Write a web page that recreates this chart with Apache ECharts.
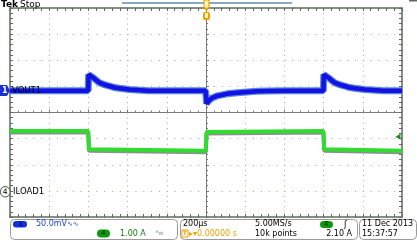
<!DOCTYPE html>
<html><head><meta charset="utf-8">
<script src="https://cdn.jsdelivr.net/npm/echarts@6/dist/echarts.min.js"></script>
<style>html,body{margin:0;padding:0;background:#fff}#c{width:417px;height:250px}</style>
</head><body><div id="c"></div>
<script>
// Time base: 200 µs/div, trigger at 0
const voutTimeUs = [-1000, -601, -599, -595, -569, -544, -518, -493, -467, -442, -391, -294, -2, 1, 3, 15, 31, 56, 107, 158, 209, 260, 310, 400, 599, 601, 605, 631, 656, 682, 707, 733, 758, 809, 906, 1000];
const voutMilliV  = [0, 0, 31, 29, 23, 15.3, 11.5, 9, 6.1, 4.6, 2.3, 0, 0, -14, -24.5, -19, -14, -10, -6, -4, -2.5, -1.2, -0.6, -0.3, -0.3, 31, 29, 23, 15.3, 11.5, 9, 6.1, 4.6, 2.3, 0, 0];
const iloadTimeUs = [-1000, -601, -597, -590, -1, 3, 8, 599, 603, 610, 1000];
const iloadAmp    = [2.32, 2.32, 1.62, 1.57, 1.57, 2.28, 2.32, 2.32, 1.62, 1.57, 1.57];
// channel settings (scale per div, ground position in divs)
const ch1Scale = 50, ch1Pos = 0.834;
const ch4Scale = 1, ch4Pos = -3.03;
const triggerLevelA = 2.10;

const vData = voutTimeUs.map((t, i) => [t, voutMilliV[i] / ch1Scale + ch1Pos]);
const iData = iloadTimeUs.map((t, i) => [t, iloadAmp[i] / ch4Scale + ch4Pos]);

const F = "DejaVu Sans";
const frame = '#5d6b5d';
const dotX = {show: true, lineStyle: {color: '#aaa98f', width: 1, type: [1, 4.22]}};
const dotY = {show: true, lineStyle: {color: '#aaa98f', width: 1, type: [1, 6.84]}};

function xa(extra) {
  return Object.assign({type: 'value', min: -1000, max: 1000, interval: 200,
    axisLabel: {show: false}, splitLine: {show: false}}, extra);
}
function ya(extra) {
  return Object.assign({type: 'value', min: -4, max: 4, interval: 1,
    axisLabel: {show: false}, splitLine: {show: false}}, extra);
}
function txt(text, x, y, color, size, weight, align) {
  return {type: 'text', z: 100, style: {text: text, x: x, y: y, fill: color,
    font: (weight || 'normal') + ' ' + (size || 8) + 'px "' + F + '"',
    align: align || 'left', verticalAlign: 'middle', textAlign: align || 'left', textVerticalAlign: 'middle'}};
}
function box(x, y, w, h, r, fill, stroke, lw) {
  return {type: 'rect', z: 90, shape: {x: x, y: y, width: w, height: h, r: r},
    style: {fill: fill || 'none', stroke: stroke || null, lineWidth: lw || 1}};
}

const chart = echarts.init(document.getElementById('c'), null, {renderer: 'canvas'});
chart.setOption({
  animation: false,
  backgroundColor: '#ffffff',
  grid: {left: 10, top: 8, width: 392, height: 209},
  xAxis: [
    xa({axisLine: {onZero: true, lineStyle: {color: '#7a7a7a', width: 1}},
        axisTick: {show: true, inside: true, length: 3, lineStyle: {color: '#7a7a7a'}},
        minorTick: {show: true, splitNumber: 5, length: 2, lineStyle: {color: '#7a7a7a'}},
        splitLine: dotX}),
    xa({position: 'bottom', axisLine: {onZero: false, lineStyle: {color: frame, width: 1.5}},
        axisTick: {show: true, inside: true, length: 3, lineStyle: {color: frame}},
        minorTick: {show: true, splitNumber: 5, length: 3, lineStyle: {color: frame}}}),
    xa({position: 'top', axisLine: {onZero: false, lineStyle: {color: frame, width: 1.5}},
        axisTick: {show: true, inside: true, length: 3, lineStyle: {color: frame}},
        minorTick: {show: true, splitNumber: 5, length: 3, lineStyle: {color: frame}}})
  ],
  yAxis: [
    ya({axisLine: {onZero: true, lineStyle: {color: '#7a7a7a', width: 1}},
        axisTick: {show: true, inside: true, length: 3, lineStyle: {color: '#7a7a7a'}},
        minorTick: {show: true, splitNumber: 5, length: 2, lineStyle: {color: '#7a7a7a'}},
        splitLine: dotY}),
    ya({position: 'left', axisLine: {onZero: false, lineStyle: {color: frame, width: 1.5}},
        axisTick: {show: true, inside: true, length: 3, lineStyle: {color: frame}},
        minorTick: {show: true, splitNumber: 5, length: 3, lineStyle: {color: frame}}}),
    ya({position: 'right', axisLine: {onZero: false, lineStyle: {color: frame, width: 1.5}},
        axisTick: {show: true, inside: true, length: 3, lineStyle: {color: frame}},
        minorTick: {show: true, splitNumber: 5, length: 3, lineStyle: {color: frame}}})
  ],
  series: [
    {type: 'line', name: 'ILOAD1', data: iData, showSymbol: false, z: 5,
     lineStyle: {color: '#30dc30', width: 4, shadowColor: '#8e8e8e', shadowOffsetY: 1.5, shadowBlur: 0}},
    {type: 'line', name: 'VOUT1 halo', data: vData, showSymbol: false, z: 6,
     lineStyle: {color: '#5a8ad4', width: 7}},
    {type: 'line', name: 'VOUT1', data: vData, showSymbol: false, z: 7,
     lineStyle: {color: '#1212e6', width: 4.5}},
    {type: 'line', name: 'trig', data: [[1000, triggerLevelA / ch4Scale + ch4Pos]], showSymbol: true,
     symbol: 'triangle', symbolRotate: 90, symbolSize: [6, 5], symbolOffset: [-4, 0], z: 8,
     itemStyle: {color: '#1d8a1d'}, lineStyle: {width: 0}}
  ],
  graphic: [
    txt('Tek', 1, 4.5, '#000', 9, 'bold'),
    txt('Stop', 20, 4.5, '#000', 9),
    {type: 'rect', z: 80, shape: {x: 122, y: 2, width: 170, height: 2}, style: {fill: '#86a8c4'}},
    {type: 'rect', z: 80, shape: {x: 409, y: 0, width: 8, height: 1.5}, style: {fill: '#5d6b5d'}},
    // trigger position markers
    {type: 'rect', z: 95, shape: {x: 204, y: 0, width: 5, height: 8, r: 1}, style: {fill: '#fff3c0', stroke: '#f0a000', lineWidth: 1.2}},
    {type: 'polygon', z: 95, shape: {points: [[203.5, 8], [209.5, 8], [206.5, 11]]}, style: {fill: '#f0a000'}},
    {type: 'rect', z: 95, shape: {x: 203, y: 12, width: 7, height: 8, r: 2}, style: {fill: '#f0a000'}},
    {type: 'rect', z: 96, shape: {x: 205, y: 13, width: 3, height: 5}, style: {fill: '#fff6d0'}},
    // channel 1 marker
    {type: 'polygon', z: 95, shape: {points: [[0, 85], [7, 85], [10, 90.7], [7, 96], [0, 96]]}, style: {fill: '#1a2fd8'}},
    txt('1', 2, 90.7, '#ffffff', 8, 'bold'),
    txt('VOUT1', 12, 90.7, '#000', 8.5),
    // channel 4 marker
    {type: 'rect', z: 95, shape: {x: 0.5, y: 186.5, width: 9.5, height: 10.5, r: 5}, style: {fill: '#fff', stroke: '#3a5a3a', lineWidth: 1}},
    txt('4', 2.8, 191.7, '#000', 7.5),
    txt('ILOAD1', 13, 191.7, '#000', 8.5),
    // bottom status panel
    box(10.5, 219.5, 167, 20, 4, '#fff', '#9a9a9a'),
    box(180.5, 219.5, 177, 20, 4, '#fff', '#9a9a9a'),
    box(359.5, 219.5, 57, 20, 4, '#fff', '#9a9a9a'),
    {type: 'rect', z: 95, shape: {x: 13, y: 221, width: 14, height: 6.5, r: 3.2}, style: {fill: '#1030e0'}},
    txt('1', 18.5, 224.3, '#001060', 6.5, 'bold'),
    txt('50.0mV', 36, 224.3, '#1a3fd0', 8),
    txt('∿∿', 67, 224.3, '#1a3fd0', 7),
    {type: 'rect', z: 95, shape: {x: 97, y: 229.5, width: 13, height: 8, r: 4}, style: {fill: '#0c9a0c'}},
    txt('4', 101, 233.5, '#002000', 7),
    txt('1.00 A', 120, 233.5, '#147a14', 8),
    txt('ᴮw', 156, 233.5, '#7a9a7a', 6),
    txt('200µs', 183, 224.3, '#000', 8),
    {type: 'rect', z: 95, shape: {x: 182, y: 230, width: 6, height: 7}, style: {fill: '#fff', stroke: '#f0a000', lineWidth: 1}},
    txt('T', 182.7, 233.5, '#f0a000', 6, 'bold'),
    txt('▸▾0.00000 s', 189, 233.5, '#f0a000', 8),
    txt('5.00MS/s', 255, 224.3, '#000', 8),
    txt('10k points', 255, 233.5, '#000', 8),
    {type: 'rect', z: 95, shape: {x: 320, y: 221, width: 13, height: 7, r: 3.5}, style: {fill: '#0c9a0c'}},
    txt('4', 324, 224.5, '#002000', 7),
    txt('ʃ', 344, 224.3, '#000', 8.5),
    txt('2.10 A', 352, 233.5, '#000', 8, 'normal', 'right'),
    txt('11 Dec 2013', 362, 224.3, '#000', 8),
    txt('15:37:57', 362, 233.5, '#000', 8)
  ]
});
</script></body></html>
